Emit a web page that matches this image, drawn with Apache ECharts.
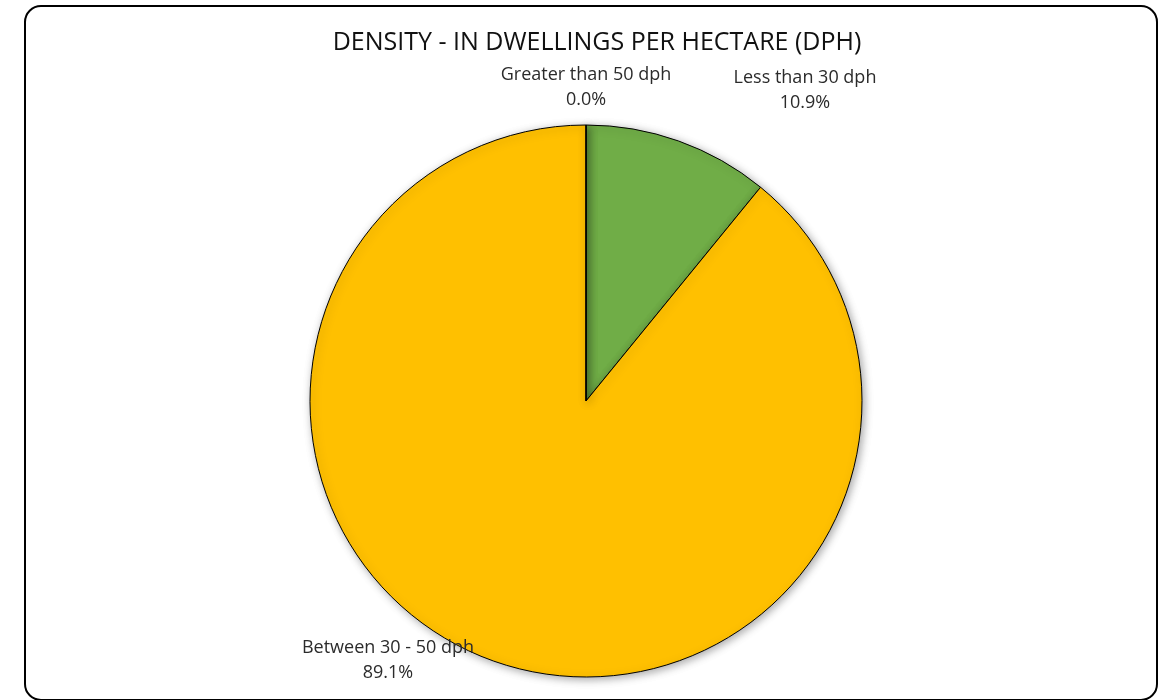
<!DOCTYPE html>
<html>
<head>
<meta charset="utf-8">
<script src="https://cdn.jsdelivr.net/npm/echarts@6/dist/echarts.min.js"></script>
<style>
  html, body { margin: 0; padding: 0; background: #fff; }
  #chart { width: 1171px; height: 700px; }
</style>
</head>
<body>
<div id="chart"></div>
<script>
// Density shares, in slice order (clockwise from 12 o'clock)
const categories = ['Less than 30 dph', 'Between 30 - 50 dph', 'Greater than 50 dph'];
const shares = [10.9, 89.1, 0.0];
const sliceColors = ['#70AD47', '#FFC000', '#A5A5A5'];

// Label anchor points (centre of each two-line label)
const labelAnchors = [[805, 90], [388, 660], [586, 87]];

const FONT = '"Open Sans", "Noto Sans", sans-serif';

const chart = echarts.init(document.getElementById('chart'), null, { renderer: 'canvas' });

chart.setOption({
  backgroundColor: '#ffffff',
  animation: false,
  title: {
    text: 'DENSITY - IN DWELLINGS PER HECTARE (DPH)',
    left: 592,
    textAlign: 'center',
    top: 25,
    textStyle: { fontFamily: FONT, fontSize: 25, fontWeight: 'normal', color: '#111' }
  },
  graphic: [{
    type: 'rect',
    shape: { x: 25, y: 6, width: 1132, height: 694, r: 16 },
    style: { fill: 'none', stroke: '#000', lineWidth: 2 },
    z: 100
  }],
  series: [{
    type: 'pie',
    center: [586, 401],
    radius: 276,
    startAngle: 90,
    clockwise: true,
    avoidLabelOverlap: false,
    data: categories.map((name, i) => ({
      name: name,
      value: shares[i],
      itemStyle: { color: sliceColors[i] }
    })),
    itemStyle: {
      borderColor: '#000',
      borderWidth: 1,
      shadowBlur: 8,
      shadowColor: 'rgba(0,0,0,0.35)',
      shadowOffsetX: 2,
      shadowOffsetY: 2
    },
    label: {
      show: true,
      position: 'outside',
      formatter: p => p.name + '\n' + shares[p.dataIndex].toFixed(1) + '%',
      fontFamily: FONT,
      fontSize: 18,
      lineHeight: 25,
      color: '#2b2b2b',
      align: 'center'
    },
    labelLine: { show: false },
    labelLayout: p => ({
      x: labelAnchors[p.dataIndex][0],
      y: labelAnchors[p.dataIndex][1],
      align: 'center',
      verticalAlign: 'middle'
    }),
    emphasis: { disabled: true }
  }]
});
</script>
</body>
</html>
